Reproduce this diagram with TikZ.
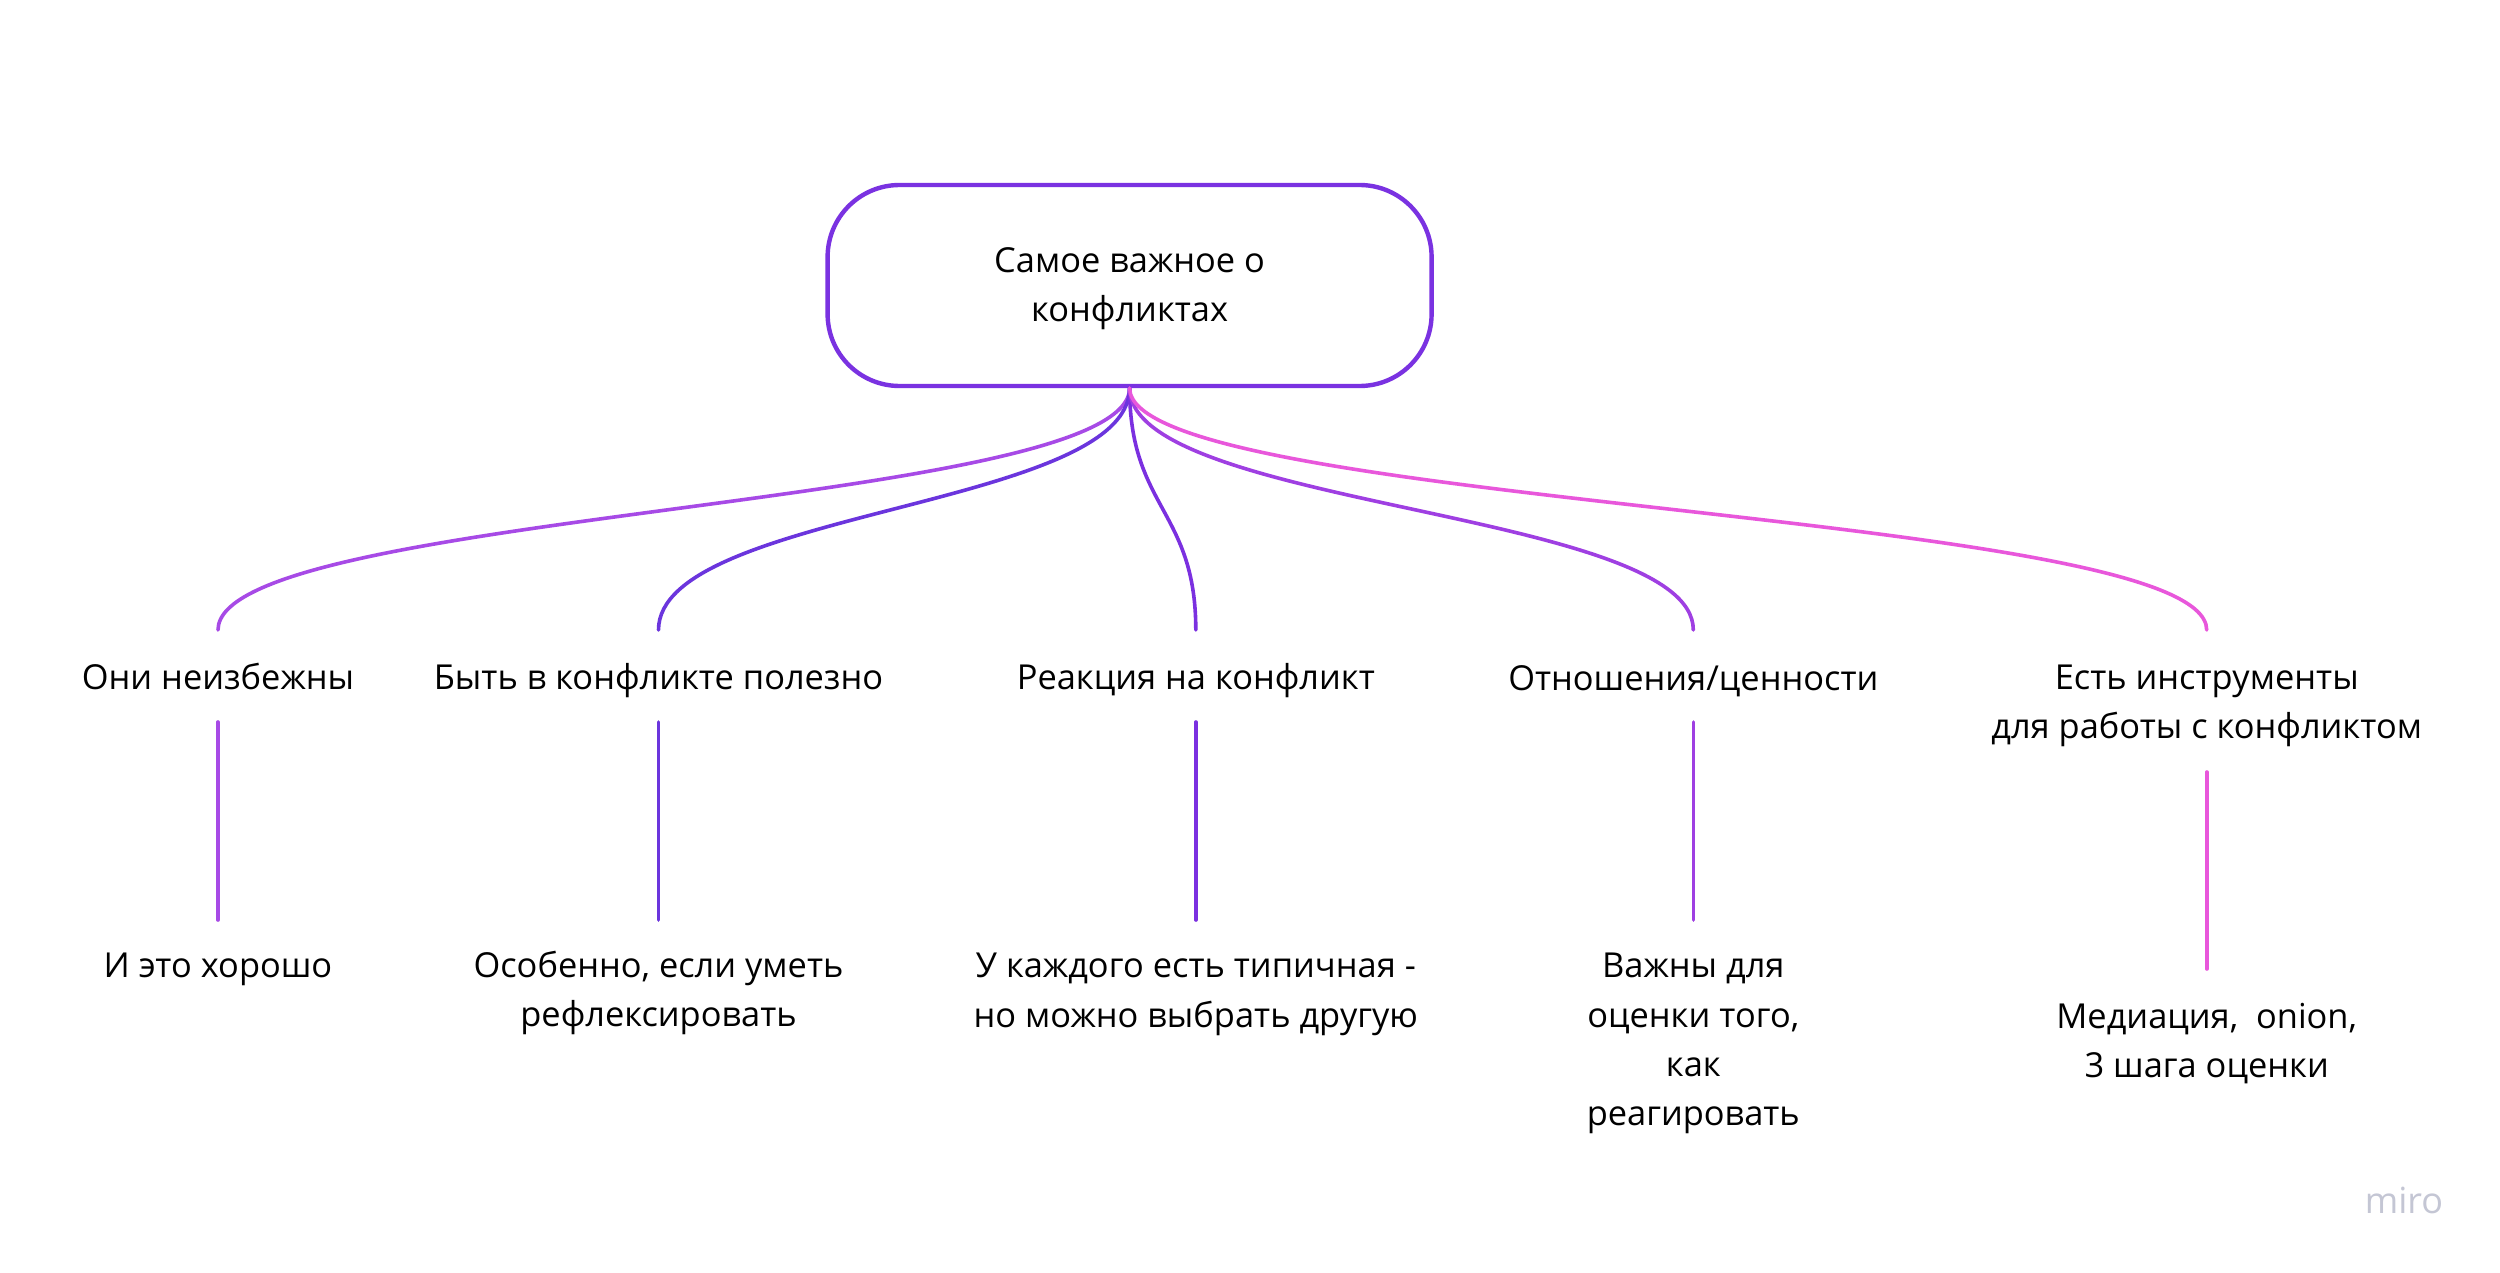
\documentclass[tikz,border=0pt]{standalone}
\usepackage{fontspec}
\setmainfont{Open Sans}
\definecolor{boxc}{HTML}{7A32E1}
\definecolor{ca}{HTML}{A74AE6}
\definecolor{cb}{HTML}{6B35DD}
\definecolor{cc}{HTML}{7B30E0}
\definecolor{cd}{HTML}{9F3FE2}
\definecolor{ce}{HTML}{E857DB}
\definecolor{miroc}{HTML}{C4C6D4}
\begin{document}
\begin{tikzpicture}[x=0.5pt,y=-0.5pt,
  lbl/.style={align=center,inner sep=0pt,font=\fontsize{17.2}{24.7}\selectfont},
  rootbox/.style={draw=boxc,line width=2.2pt,rounded corners=36pt,minimum width=302pt,minimum height=100.5pt,align=center,font=\fontsize{17.2}{24.7}\selectfont},
  conn/.style={line width=1.8pt,line cap=round}]
\useasboundingbox[fill=white] (0,0) rectangle (2500,1273);
\node[rootbox] (root) at (1129.6,285.5) {\rule{0pt}{15.8pt}Самое важное о\\конфликтах};
% children
\node[lbl] (k1) at (218,676.5) {Они неизбежны};
\node[lbl] (k2) at (658.5,681) {Быть в конфликте полезно};
\node[lbl] (k3) at (1195.8,681) {Реакция на конфликт};
\node[lbl] (k4) at (1693.3,681) {Отношения/ценности};
\node[lbl] (k5) at (2206.7,705.7) {Есть инструменты\\для работы с конфликтом};
% leaves
\node[lbl] (g1) at (218,969.5) {И это хорошо};
\node[lbl] (g2) at (658.5,993) {Особенно, если уметь\\рефлексировать};
\node[lbl] (g3) at (1195.8,994.2) {У каждого есть типичная -\\но можно выбрать другую};
\node[lbl] (g4) at (1693.3,1043.6) {Важны для\\оценки того,\\как\\реагировать};
\node[lbl] (g5) at (2206.7,1043.7) {Медиация,\ \ onion,\\3 шага оценки};
% connector endpoints
\coordinate (s) at (1129.6,388);
\foreach \n/\x in {1/218,2/658.5,3/1195.8,4/1693.3,5/2206.7}{
  \coordinate (t\n) at (\x,630);
}
\coordinate (v1a) at (218,722); \coordinate (v1b) at (218,920);
\coordinate (v2a) at (658.5,722); \coordinate (v2b) at (658.5,920);
\coordinate (v3a) at (1195.8,722); \coordinate (v3b) at (1195.8,920);
\coordinate (v4a) at (1693.3,722); \coordinate (v4b) at (1693.3,920);
\coordinate (v5a) at (2206.7,772); \coordinate (v5b) at (2206.7,969);
% curves
\draw[conn,ca] (s) .. controls ++(0,120) and ++(0,-120) .. (t1);
\draw[conn,cb] (s) .. controls ++(0,120) and ++(0,-120) .. (t2);
\draw[conn,cc] (s) .. controls ++(0,120) and ++(0,-120) .. (t3);
\draw[conn,cd] (s) .. controls ++(0,120) and ++(0,-120) .. (t4);
\draw[conn,ce] (s) .. controls ++(0,120) and ++(0,-120) .. (t5);
% verticals
\draw[conn,ca] (v1a) -- (v1b);
\draw[conn,cb] (v2a) -- (v2b);
\draw[conn,cc] (v3a) -- (v3b);
\draw[conn,cd] (v4a) -- (v4b);
\draw[conn,ce] (v5a) -- (v5b);
\node[inner sep=0pt,text=miroc,font=\fontsize{18}{20}\selectfont] (miro) at (2404,1200) {miro};
\end{tikzpicture}
\end{document}
